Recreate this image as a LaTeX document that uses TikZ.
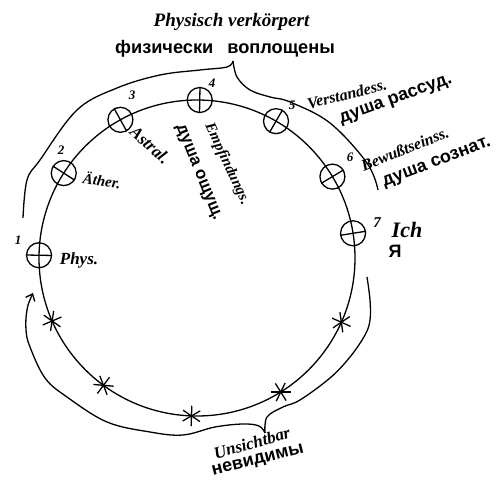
\documentclass[tikz,border=0pt]{standalone}
\usepackage{fontspec}
\newfontfamily\rufont{Liberation Sans}
\newfontfamily\handfont{Liberation Serif}
\usetikzlibrary{arrows.meta,calc}

\begin{document}
\begin{tikzpicture}[x=1pt,y=1pt,line width=1.3pt,
  hand/.style={font=\handfont\bfseries\itshape\fontsize{#1}{#1}\selectfont, inner sep=0pt},
  hand/.default=14,
  ru/.style={font=\rufont\bfseries\fontsize{18}{18}\selectfont, inner sep=0pt},
  ring/.style={circle, draw, minimum size=25pt, inner sep=0pt},
  astk/.style={circle, minimum size=19pt, inner sep=0pt}]
  \useasboundingbox (0,0) rectangle (496,482);
  \coordinate (c) at (197,224);
  \draw (c) circle (158);
  \foreach \a [count=\i, evaluate=\a as \b using \a+180] in {179,147.5,119,89,60,31,9}{
    \node[ring] (o\i) at ($(c)+(\a:158)$) {};
    \draw (o\i.\a) -- (o\i.\b);
  }
  \foreach \a [count=\i] in {203.5,233.7,268,302,336}{
    \node[astk] (s\i) at ($(c)+(\a:158)$) {};
    \foreach \t in {0,58,122}{
      \pgfmathtruncatemacro\p{\a+\t}
      \pgfmathtruncatemacro\q{\a+\t+180}
      \draw (s\i.\p) -- (s\i.\q);
    }
  }

  \draw plot[smooth, tension=0.6] coordinates {(23,264) (27,302) (40,322) (77,372) (117,394) (160,407) (200,412) (227,415) (233,421)};
  \draw plot[smooth, tension=0.6] coordinates {(233,421) (237,405) (250,392) (270,385) (290,380) (330,359) (367,319) (378,292)};
  \draw[{Straight Barb[length=6pt,width=10pt]}-] plot[smooth, tension=0.6] coordinates {(33,189) (27,172) (26,152) (30,135) (45,104) (67,85) (107,60) (150,50) (183,47) (215,55) (243,58) (259,56) (265,49)};
  \draw plot[smooth, tension=0.6] coordinates {(265,49) (267,65) (283,75) (300,82) (330,104) (350,125) (365,147) (370,162) (370,182) (367,205)};

  \node[hand=19, anchor=base] (tphv) at (231.5,455) {Physisch verkörpert};
  \node[ru, font=\rufont\bfseries\fontsize{18.2}{18}\selectfont, anchor=base] (tfiz) at (225,428) {физически\hspace{14pt}воплощены};

  \node[hand=13] (l1) at (18,242) {1};
  \node[hand=13] (l2) at (61,332) {2};
  \node[hand=13] (l3) at (132,387) {3};
  \node[hand=13] (l4) at (212,399) {4};
  \node[hand=13] (l5) at (292,377) {5};
  \node[hand=13] (l6) at (350,325) {6};
  \node[hand=15] (l7) at (377,259) {7};

  \node[hand=17, anchor=base] (tphys) at (79,217) {Phys.};
  \node[hand=15, rotate=-8] (tath) at (102,302) {Äther.};
  \node[hand=17, rotate=-42] (tast) at (150,337) {Astral.};
  \node[hand=15, rotate=-65] (temp) at (227,318) {Empfindungs.};
  \node[ru, font=\rufont\bfseries\fontsize{17}{17}\selectfont, rotate=-68] (tdos) at (198,309) {душа ощущ.};
  \node[hand=16, rotate=14] (tver) at (347,388) {Verstandess.};
  \node[ru, rotate=20] (tdra) at (396,382) {душа рассуд.};
  \node[hand=16, rotate=22] (tbew) at (405,333) {Bewußtseinss.};
  \node[ru, rotate=21] (tdso) at (437,319) {душа сознат.};
  \node[hand=22] (tich) at (407,252) {Ich};
  \node[ru] (tya) at (395,231) {Я};
  \node[hand=17, rotate=16] (tuns) at (252,39) {Unsichtbar};
  \node[ru, rotate=14] (tnev) at (258,21) {невидимы};
\end{tikzpicture}
\end{document}
